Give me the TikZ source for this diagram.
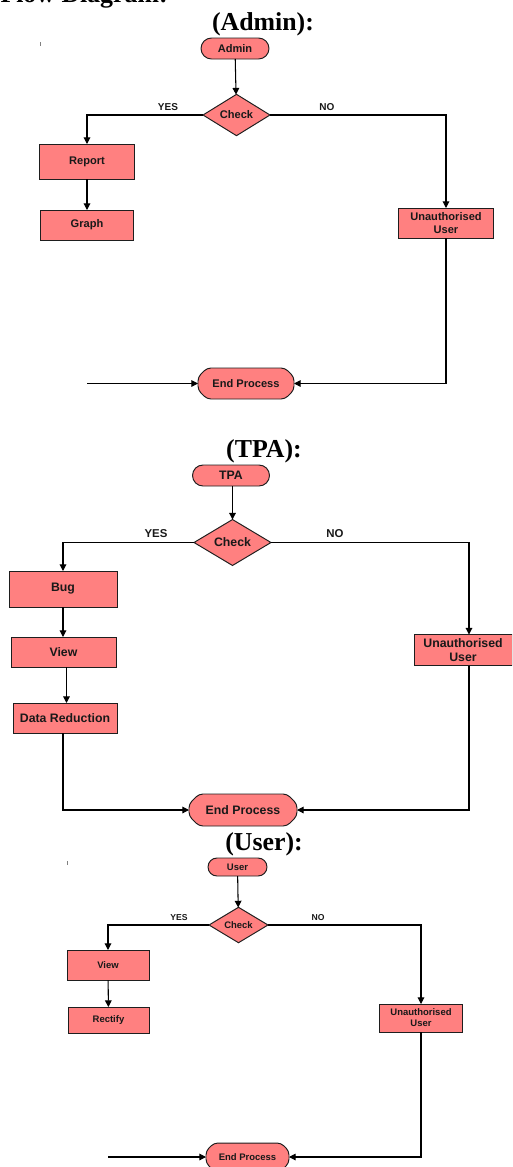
\documentclass[tikz,border=0pt]{standalone}
\usepackage{fontspec}
\setmainfont{Liberation Serif}
\newfontfamily\boxfont{Liberation Sans}
\usetikzlibrary{arrows.meta,shapes.geometric,shapes.misc,calc}
\pgfdeclarelayer{bg}
\pgfsetlayers{bg,main}
\definecolor{salmon}{RGB}{255,128,128}
\definecolor{edge}{RGB}{30,30,30}

% size of the box lettering, reset for each chart
\newcommand\boxsize{\fontsize{6.3}{7}\selectfont}
\newcommand\labelsize{\fontsize{5.7}{6}\selectfont}

\tikzset{
  base/.style={fill=salmon, draw=edge, line width=0.55pt, inner sep=0pt, outer sep=0pt,
    align=center, text=black!90, font=\boxsize\boxfont\bfseries},
  startbox/.style={base, rounded rectangle},
  procbox/.style={base, rectangle},
  checkbox/.style={base, diamond},
  stopbox/.style={inner sep=0pt, outer sep=0pt, align=center, text=black!90, font=\boxsize\boxfont\bfseries},
  stopshape/.style={fill=salmon, draw=edge, line width=0.55pt, rounded corners=2.2pt},
  link/.style={draw=black, line width=0.6pt},
  arr/.style={link, -{Triangle[length=3.8pt,width=3.8pt]}},
  branch/.style={font=\labelsize\boxfont\bfseries, text=black!90, inner sep=0pt},
  heading/.style={font=\fontsize{14.7}{16}\selectfont\bfseries, inner sep=0pt},
}

% octagonal terminator behind a stop node
\newcommand\stopoutline[2]{%
  \begin{pgfonlayer}{bg}
    \draw[stopshape]
      ([xshift=#2]#1.north west) -- ([xshift=-#2]#1.north east)
      -- ([yshift=-#2]#1.north east) -- ([yshift=#2]#1.south east)
      -- ([xshift=-#2]#1.south east) -- ([xshift=#2]#1.south west)
      -- ([yshift=#2]#1.south west) -- ([yshift=-#2]#1.north west) -- cycle;
  \end{pgfonlayer}}

\begin{document}
\begin{tikzpicture}[x=0.02cm, y=-0.02cm]
\useasboundingbox (0,0) rectangle (512,1167);
\clip (0,0) rectangle (512,1167);

\node[heading, anchor=base east] (flowtitle) at (168,2) {Flow Diagram:};

% ---------------- Admin ----------------
\node[heading] (tadmin) at (263,24) {(Admin):};
\draw[gray, line width=0.5pt] (40,42) -- (40,46);

\renewcommand\boxsize{\fontsize{6.3}{7.2}\selectfont}
\renewcommand\labelsize{\fontsize{5.7}{6}\selectfont}
\node[startbox, minimum width=1.36cm, minimum height=0.42cm] (admin) at (235,48.5) {Admin};
\node[checkbox, minimum width=1.34cm, minimum height=0.76cm] (chk1) at (236.5,115) {Check};
\node[procbox, minimum width=1.9cm, minimum height=0.7cm] (rep) at (87,161.5) {Report};
\node[procbox, minimum width=1.86cm, minimum height=0.6cm] (gra) at (87,225) {Graph};
\node[procbox, minimum width=1.9cm, minimum height=0.6cm] (un1) at (446,223) {Unauthorised\\User};
\node[stopbox, minimum width=1.92cm, minimum height=0.62cm] (end1) at (246,383.5) {End Process};
\node[branch] (yes1) at (168,107) {YES};
\node[branch] (no1) at (327,107) {NO};
\stopoutline{end1}{0.18cm}
\coordinate (in1) at (87,383.5);

\draw[arr] (admin) -- (chk1);
\draw[arr] (chk1.west) -| (rep.north);
\draw[arr] (rep) -- (gra);
\draw[arr] (chk1.east) -| (un1.north);
\draw[arr] (un1.south) |- (end1.east);
\draw[arr] (in1) -- (end1.west);

% ---------------- TPA ----------------
\node[heading] (ttpa) at (264,451) {(TPA):};

\renewcommand\boxsize{\fontsize{7}{8}\selectfont}
\renewcommand\labelsize{\fontsize{6.5}{7}\selectfont}
\node[startbox, minimum width=1.54cm, minimum height=0.42cm] (tpa) at (231,475.5) {TPA};
\node[checkbox, minimum width=1.54cm, minimum height=0.8cm] (chk2) at (232.5,542.5) {Check};
\node[procbox, minimum width=2.16cm, minimum height=0.72cm] (bug) at (63,589) {Bug};
\node[procbox, minimum width=2.1cm, minimum height=0.6cm] (view2) at (63.5,652) {View};
\node[procbox, minimum width=2.08cm, minimum height=0.6cm] (dr) at (65,718) {Data Reduction};
\node[procbox, minimum width=1.96cm, minimum height=0.62cm] (un2) at (463,650) {Unauthorised\\User};
\node[stopbox, minimum width=2.16cm, minimum height=0.64cm] (end2) at (243,810) {End Process};
\node[branch] (yes2) at (156,534) {YES};
\node[branch] (no2) at (335,534) {NO};
\stopoutline{end2}{0.2cm}

\draw[arr] (tpa.south -| chk2) -- (chk2.north);
\draw[arr] (chk2.west) -| (bug.north);
\draw[arr] (bug.south) -- (bug.south |- view2.north);
\draw[arr] ([xshift=0.06cm]view2.south) -- ([xshift=0.06cm]view2.south |- dr.north);
\draw[arr] ([xshift=-0.04cm]dr.south) |- (end2.west);
\draw[arr] (chk2.east) -| ([xshift=0.12cm]un2.north);
\draw[arr] ([xshift=0.12cm]un2.south) |- (end2.east);

% ---------------- User ----------------
\node[heading] (tuser) at (264,844) {(User):};
\draw[gray, line width=0.5pt] (67,861) -- (67,865);

\renewcommand\boxsize{\fontsize{5.4}{6.2}\selectfont}
\renewcommand\labelsize{\fontsize{4.9}{5}\selectfont}
\node[startbox, minimum width=1.18cm, minimum height=0.36cm] (user) at (237.5,867) {User};
\node[checkbox, minimum width=1.18cm, minimum height=0.7cm] (chk3) at (238.5,925) {Check};
\node[procbox, minimum width=1.64cm, minimum height=0.6cm] (view3) at (108,965) {View};
\node[procbox, minimum width=1.62cm, minimum height=0.52cm] (rect) at (108.5,1020) {Rectify};
\node[procbox, minimum width=1.66cm, minimum height=0.56cm] (un3) at (421,1018) {Unauthorised\\User};
\node[stopbox, minimum width=1.66cm, minimum height=0.56cm] (end3) at (247.5,1157) {End Process};
\node[branch] (yes3) at (179,918) {YES};
\node[branch] (no3) at (318,918) {NO};
\stopoutline{end3}{0.16cm}
\coordinate (in3) at (108,1157);

\draw[arr] (user) -- (chk3);
\draw[arr] (chk3.west) -| (view3.north);
\draw[arr] (view3) -- (rect);
\draw[arr] (chk3.east) -| (un3.north);
\draw[arr] (un3.south) |- (end3.east);
\draw[arr] (in3) -- (end3.west);

\end{tikzpicture}
\end{document}
